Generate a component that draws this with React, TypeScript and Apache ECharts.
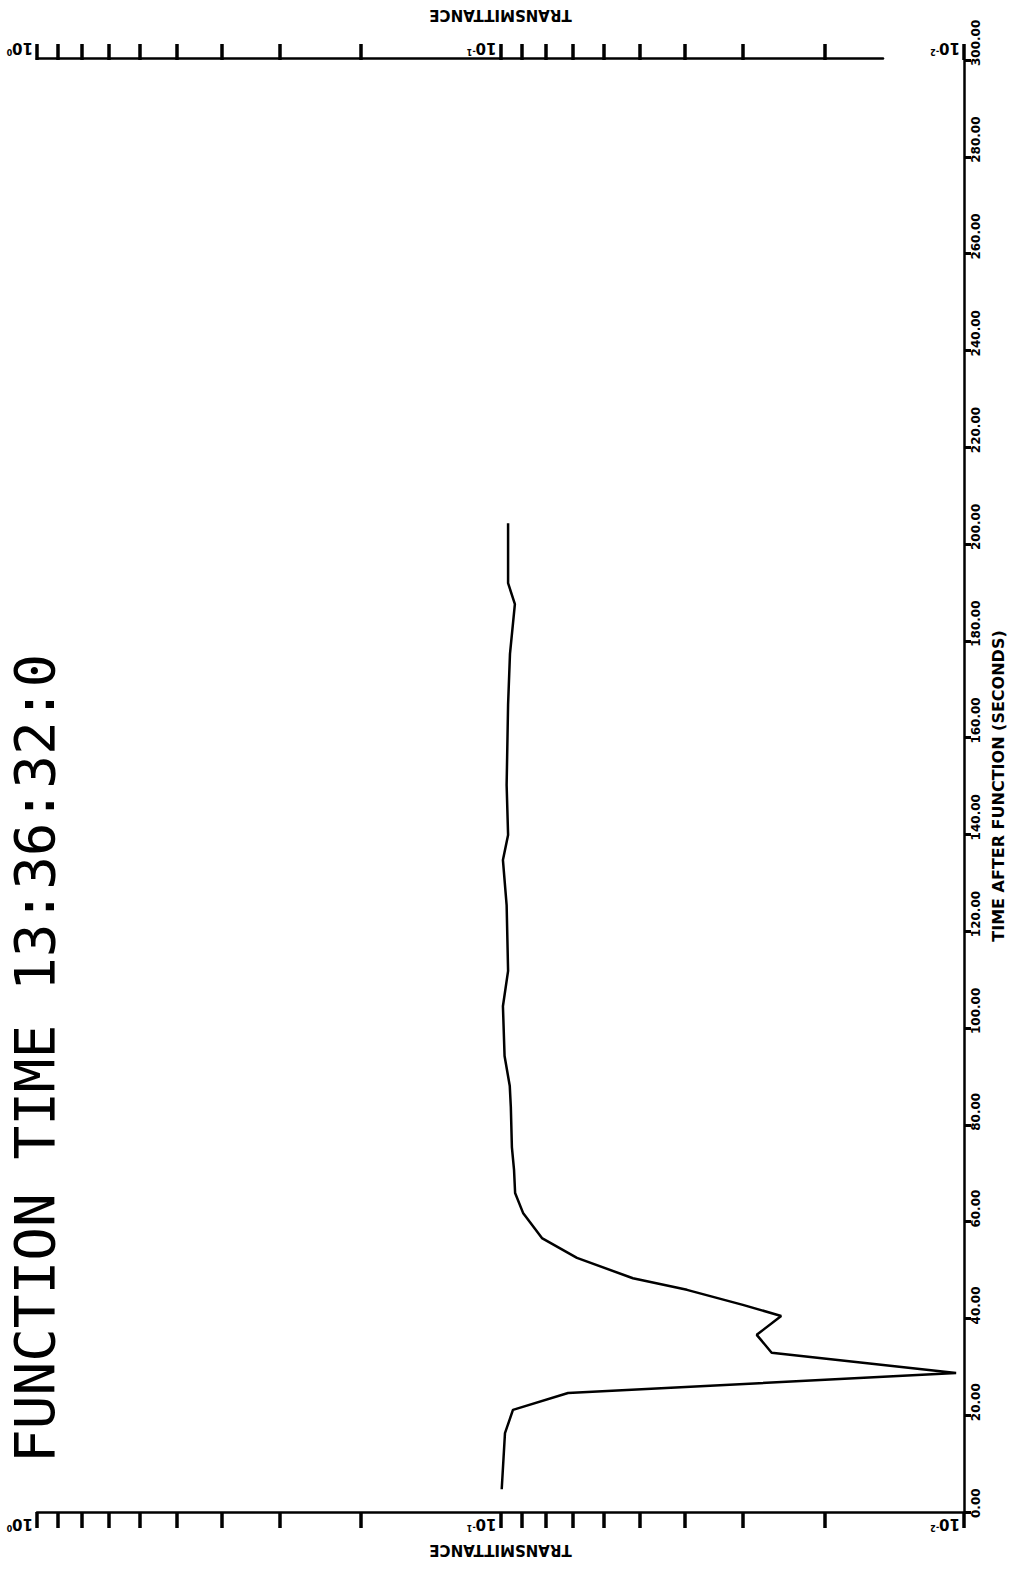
import React, { useEffect, useRef } from 'react';
import * as echarts from 'echarts';

// Time after function (seconds) and transmittance
const timeSeconds = [4.7, 16.3, 21.1, 24.6, 28.7, 32.9, 36.6, 40.5, 42.8, 45.9, 48.3, 52.5, 56.6, 61.8, 65.9, 70.7, 75.4, 83.7, 88.0, 94.2, 104.5, 111.8, 125.4, 134.7, 139.9, 150.2, 166.9, 177.3, 187.6, 191.9, 204.3];
const transmittance = [0.0994, 0.0978, 0.094, 0.0715, 0.0104, 0.026, 0.028, 0.0248, 0.030, 0.0396, 0.0518, 0.0684, 0.0814, 0.0894, 0.093, 0.0935, 0.0945, 0.095, 0.0955, 0.098, 0.0988, 0.0963, 0.097, 0.0988, 0.0963, 0.097, 0.0963, 0.0954, 0.0931, 0.0963, 0.0963];

const decadeValues = [1, 0.1, 0.01];
const logTickValues = [1, 0.9, 0.8, 0.7, 0.6, 0.5, 0.4, 0.3, 0.2, 0.1, 0.09, 0.08, 0.07, 0.06, 0.05, 0.04, 0.03, 0.02, 0.01];
const timeMin = 0;
const timeMax = 300;
const timeInterval = 20;

const titleText = 'FUNCTION TIME 13:36:32:0';
const timeAxisName = 'TIME AFTER FUNCTION (SECONDS)';
const transAxisName = 'TRANSMITTANCE';

export default function App() {
  const ref = useRef<HTMLDivElement>(null);
  useEffect(() => {
    const chart = echarts.init(ref.current!, null, { renderer: 'svg' });
    const decadeFormatter = (v: number) => {
      const e = Math.round(Math.log10(v));
      return '{b|10}{e|' + e + '}';
    };
    const decadeRich = {
      b: { fontSize: 15, fontWeight: 'bold', fontFamily: 'DejaVu Sans', color: '#000' },
      e: { fontSize: 8, fontWeight: 'bold', fontFamily: 'DejaVu Sans', color: '#000', verticalAlign: 'top' as const, padding: [0, 0, 6, 0] },
    };
    const logAxisBase = {
      type: 'log' as const,
      logBase: 10,
      min: 0.01,
      max: 1,
      inverse: true,
      gridIndex: 0,
      splitLine: { show: false },
      axisTick: {
        show: true,
        customValues: logTickValues,
        length: 16,
        inside: false,
        lineStyle: { color: '#000', width: 3.5 },
      },
      axisLabel: {
        show: true,
        customValues: decadeValues,
        formatter: decadeFormatter,
        rich: decadeRich,
        rotate: 180,
        align: 'left' as const,
        verticalAlign: 'middle' as const,
        margin: 12,
        padding: [0, 0, 0, 4],
      },
      name: transAxisName,
      nameLocation: 'middle' as const,
      nameRotate: 180,
      nameTextStyle: { fontSize: 15, fontWeight: 'bold', fontFamily: 'DejaVu Sans', color: '#000' },
    };
    const option: any = {
      animation: false,
      backgroundColor: '#fff',
      grid: [
        { left: 37, right: 55, top: 60, bottom: 65 },
        { left: 37, right: 136, top: 58, bottom: 65 },
      ],
      xAxis: [
        {
          ...logAxisBase,
          position: 'bottom',
          axisLine: { show: true, lineStyle: { color: '#000', width: 2.5 } },
          nameGap: 30,
        },
        {
          ...logAxisBase,
          position: 'top',
          axisLine: { show: false },
          nameGap: 38,
        },
        {
          type: 'value',
          gridIndex: 1,
          position: 'top',
          min: 0,
          max: 1,
          axisLine: { show: true, onZero: false, lineStyle: { color: '#000', width: 2.5 } },
          axisTick: { show: false },
          axisLabel: { show: false },
          splitLine: { show: false },
        },
      ],
      yAxis: [
        {
          type: 'value',
          gridIndex: 0,
          position: 'right',
          min: timeMin,
          max: timeMax,
          interval: timeInterval,
          axisLine: { show: true, lineStyle: { color: '#000', width: 2.5 } },
          axisTick: { show: true, inside: false, length: 7, lineStyle: { color: '#000', width: 3 } },
          axisLabel: {
            formatter: (v: number) => v.toFixed(2),
            rotate: 90,
            align: 'left',
            verticalAlign: 'middle',
            margin: 12,
            padding: [0, 0, 0, -6],
            fontSize: 12,
            fontWeight: 'bold',
            fontFamily: 'DejaVu Sans',
            color: '#000',
          },
          splitLine: { show: false },
          name: timeAxisName,
          nameLocation: 'middle',
          nameRotate: 90,
          nameGap: 26,
          nameTextStyle: { fontSize: 16, fontWeight: 'bold', fontFamily: 'DejaVu Sans', color: '#000' },
        },
        { type: 'value', gridIndex: 1, show: false, min: 0, max: 1 },
      ],
      graphic: [
        {
          type: 'text',
          x: 34,
          y: 1463,
          rotation: Math.PI / 2,
          style: {
            text: titleText,
            font: '56px "DejaVu Sans Mono"',
            lineHeight: 44,
            fill: '#000',
            align: 'left',
            verticalAlign: 'middle',
          },
        },
      ],
      series: [
        {
          type: 'line',
          xAxisIndex: 0,
          yAxisIndex: 0,
          showSymbol: false,
          symbol: 'none',
          lineStyle: { color: '#000', width: 2.5 },
          data: timeSeconds.map((t, i) => [transmittance[i], t]),
        },
      ],
    };
    chart.setOption(option);
    return () => chart.dispose();
  }, []);
  return (
    <div
      ref={ref}
      style={{ position: 'fixed', left: 0, top: 0, width: 1019, height: 1577, background: '#fff' }}
    />
  );
}
